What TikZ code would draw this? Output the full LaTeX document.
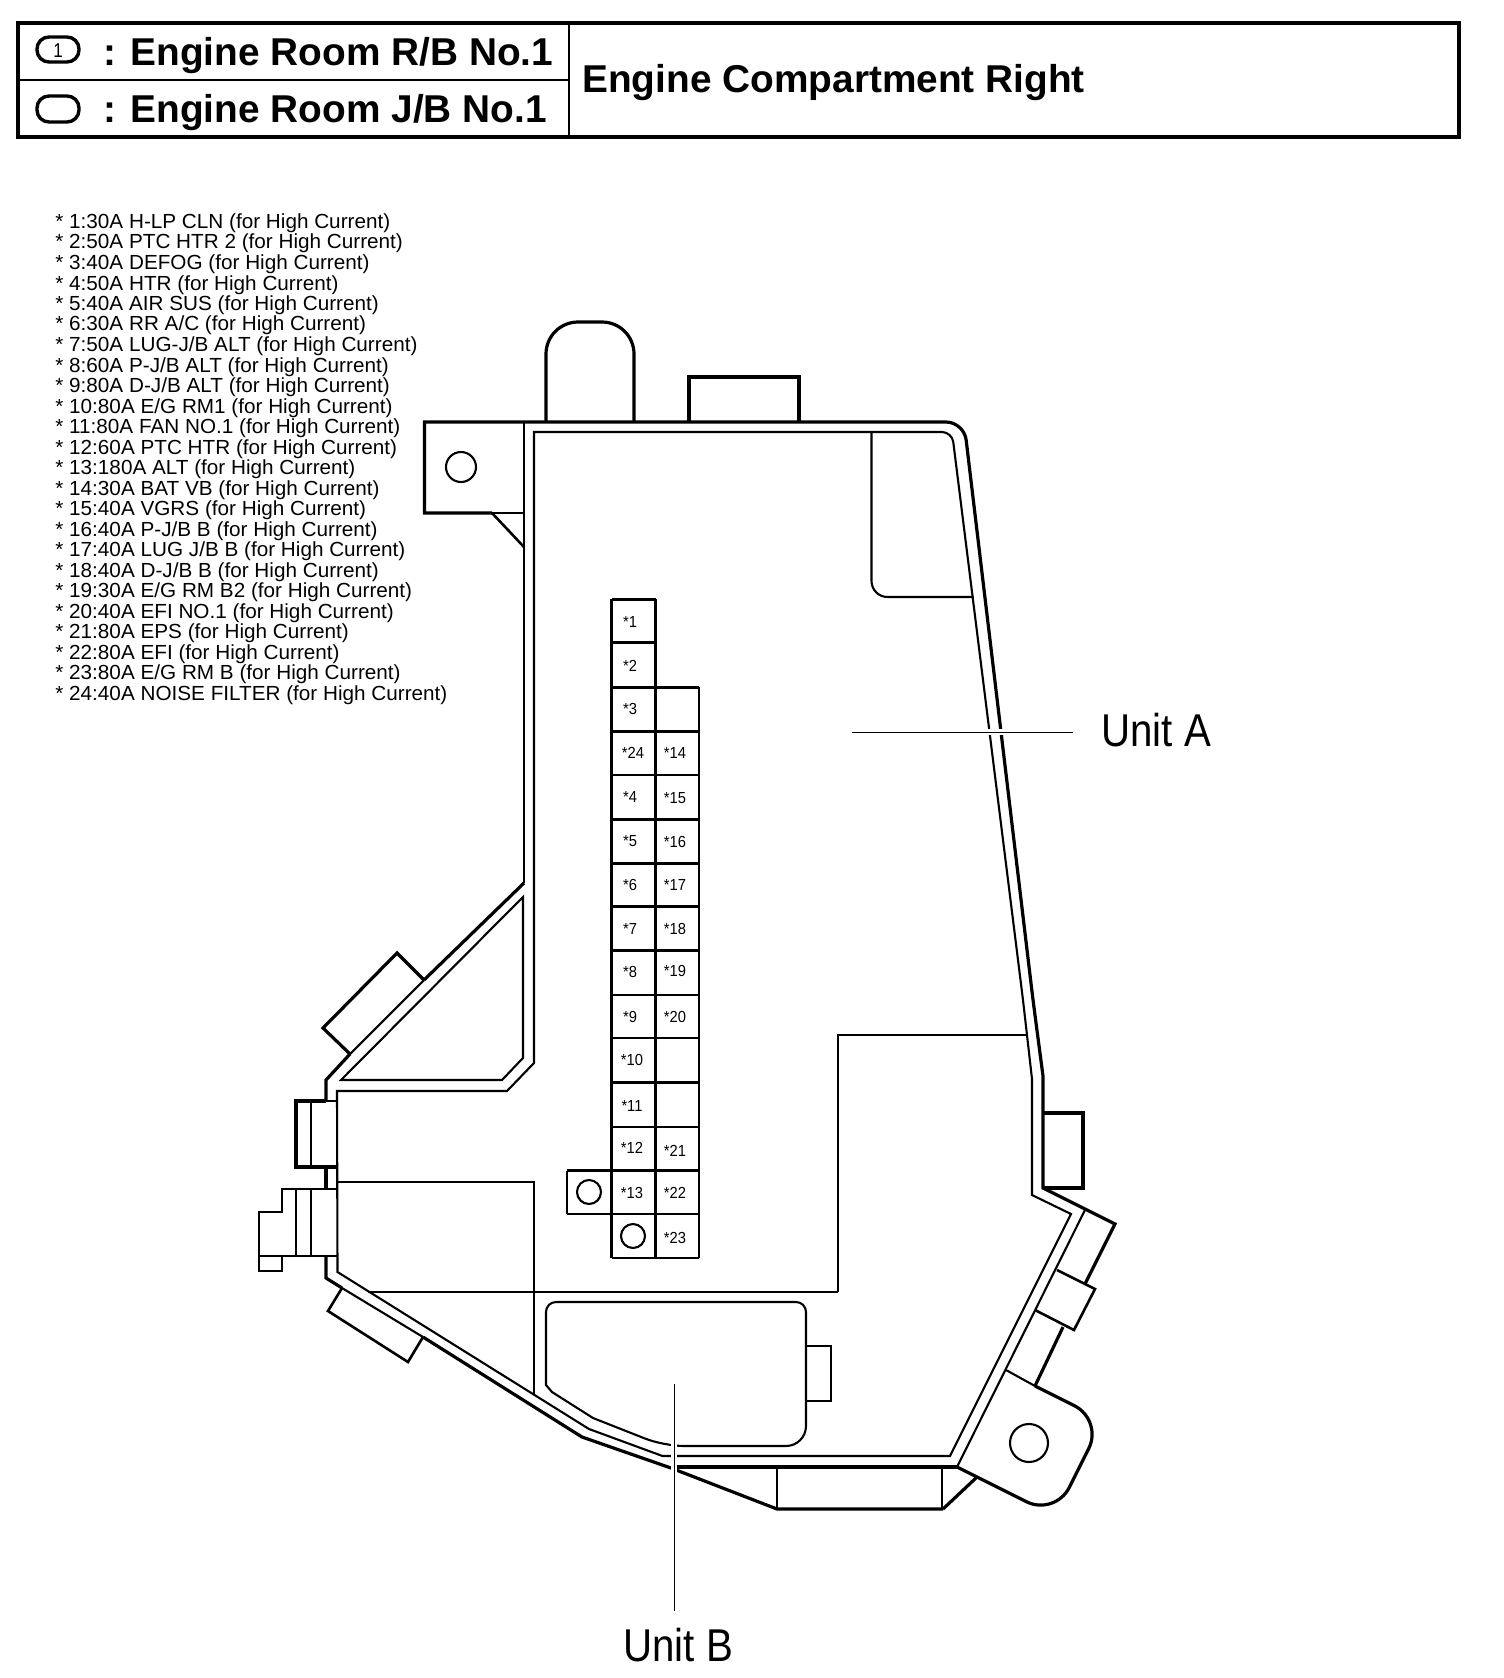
\documentclass[tikz,border=0pt]{standalone}
\usepackage{fontspec}
\setmainfont{Liberation Sans}
\tikzset{
  wallthick/.style={black, line width=1.6pt, line join=miter},
  wallmed/.style={black, line width=1.05pt},
  wallthin/.style={black, line width=0.75pt},
  cellline/.style={black, line width=1.35pt},
  leaderline/.style={black, line width=0.45pt, preaction={draw=white, line width=2.8pt}},
  headtext/.style={anchor=base west, inner sep=0pt, font=\fontsize{19.4}{19.4}\selectfont\bfseries},
  listtext/.style={anchor=base west, inner sep=0pt, xscale=1.015, font=\fontsize{10.2}{10.2}\selectfont},
  fusetext/.style={inner sep=0pt, xscale=0.92, font=\fontsize{8}{8}\selectfont},
  unitlabel/.style={inner sep=0pt, xscale=0.875, font=\fontsize{23}{23}\selectfont}
}
\begin{document}
\begin{tikzpicture}[x=0.5pt,y=-0.5pt]
\useasboundingbox (0,0) rectangle (1504,1678);

% header
\draw[black, line width=1.8pt] (18,23) rectangle (1459,137);
\draw[wallthin] (18,80)--(569,80);
\draw[wallthin] (569,23)--(569,137);

\draw[black, line width=1.7pt, rounded corners=6pt] (37,37) rectangle (79,62);
\draw[black, line width=1.7pt, rounded corners=6pt] (37,96) rectangle (79,122);
\node[inner sep=0pt, xscale=0.85, font=\fontsize{10}{10}\selectfont] (iconone) at (58,50.5) {1};

\node[headtext] (headrb) at (103,65) {: Engine Room R/B No.1};
\node[headtext] (headjb) at (103,122) {: Engine Room J/B No.1};
\node[headtext] (headarea) at (582,92.5) {Engine Compartment Right};

% fuse list
\node[listtext] (list1) at (55,228) {* 1:30A H-LP CLN (for High Current)};
\node[listtext] (list2) at (55,248.5) {* 2:50A PTC HTR 2 (for High Current)};
\node[listtext] (list3) at (55,269) {* 3:40A DEFOG (for High Current)};
\node[listtext] (list4) at (55,290) {* 4:50A HTR (for High Current)};
\node[listtext] (list5) at (55,310) {* 5:40A AIR SUS (for High Current)};
\node[listtext] (list6) at (55,330.5) {* 6:30A RR A/C (for High Current)};
\node[listtext] (list7) at (55,351) {* 7:50A LUG-J/B ALT (for High Current)};
\node[listtext] (list8) at (55,372) {* 8:60A P-J/B ALT (for High Current)};
\node[listtext] (list9) at (55,392) {* 9:80A D-J/B ALT (for High Current)};
\node[listtext] (list10) at (55,413) {* 10:80A E/G RM1 (for High Current)};
\node[listtext] (list11) at (55,433) {* 11:80A FAN NO.1 (for High Current)};
\node[listtext] (list12) at (55,454) {* 12:60A PTC HTR (for High Current)};
\node[listtext] (list13) at (55,474) {* 13:180A ALT (for High Current)};
\node[listtext] (list14) at (55,495) {* 14:30A BAT VB (for High Current)};
\node[listtext] (list15) at (55,515) {* 15:40A VGRS (for High Current)};
\node[listtext] (list16) at (55,536) {* 16:40A P-J/B B (for High Current)};
\node[listtext] (list17) at (55,556) {* 17:40A LUG J/B B (for High Current)};
\node[listtext] (list18) at (55,577) {* 18:40A D-J/B B (for High Current)};
\node[listtext] (list19) at (55,597) {* 19:30A E/G RM B2 (for High Current)};
\node[listtext] (list20) at (55,618) {* 20:40A EFI NO.1 (for High Current)};
\node[listtext] (list21) at (55,638.5) {* 21:80A EPS (for High Current)};
\node[listtext] (list22) at (55,659) {* 22:80A EFI (for High Current)};
\node[listtext] (list23) at (55,679.5) {* 23:80A E/G RM B (for High Current)};
\node[listtext] (list24) at (55,700) {* 24:40A NOISE FILTER (for High Current)};

% outer wall
\draw[wallthick] (492,513)--(424.5,513)--(424.5,422) [rounded corners=9pt] --(964,422)--(1033,1000) [sharp corners] --(1043,1076)--(1043,1188)--(1115,1224)--(1085,1284);
\draw[wallmed] (524,422)--(524,883);
\draw[wallthin] (492,513)--(524,513);
\draw[wallmed, line width=1.3pt] (492,513)--(524,547);
\draw[wallthick] (524,883)--(424,980);
\draw[wallmed] (424,980)--(350,1054);
\draw[wallthick] (350,1054)--(326,1080)--(326,1101);
\draw[wallthick] (326,1167)--(326,1188);
\draw[wallthick] (326,1256)--(326,1278)--(342,1288);
\draw[wallmed] (342,1288)--(423,1337);
\draw[wallthick] (423,1337)--(582,1437)--(671,1468)--(777,1509)--(943,1509);
\draw[wallthick] (671,1467)--(957,1467);
\draw[wallmed] (1085,1210)--(957,1467);
\draw[wallthick] (943,1509)--(977,1477);
\draw[wallthin] (777,1467)--(777,1509);
\draw[wallthin] (942,1467)--(942,1509);

% inner wall
\draw[wallmed] (534,1063)--(534,432) [rounded corners=5pt] --(952,432)--(1023,1000) [sharp corners] --(1032,1079)--(1032,1195)--(1071,1214)--(950,1456)--(662.5,1456)--(589,1429)--(337.5,1272)--(337,1091)--(507,1091)--cycle;

% lugs and connectors on the wall
\draw[wallthick, rounded corners=16pt] (546,422)--(546,322)--(634,322)--(634,422);
\draw[wallthick] (689,422)--(689,377)--(799,377)--(799,422);
\draw[wallmed] (461,467) circle [radius=15];

\draw[wallthick] (424,980)--(397,953)--(323,1028)--(350,1054);

\draw[wallthick] (326,1101)--(296,1101)--(296,1167)--(337,1167);
\draw[wallmed] (326,1101)--(337,1101);
\draw[wallthin] (311,1101)--(311,1167);

\draw[wallmed, line width=1.3pt] (337,1189)--(282,1189)--(282,1212)--(259,1212)--(259,1271)--(282,1271)--(282,1256);
\draw[wallmed] (259,1256)--(337,1256);
\draw[wallthin] (296,1189)--(296,1256);
\draw[wallthin] (311,1189)--(311,1256);

\draw[wallmed, line width=1.3pt] (342,1288)--(328,1311)--(408,1362)--(423,1337);

\draw[wallthick] (1043,1113)--(1083,1113)--(1083,1188)--(1043,1188);
\draw[wallmed, line width=1.3pt] (1057,1270)--(1095,1289)--(1074,1330)--(1035,1310);
\draw[wallthick] (1063,1327)--(1035,1386);
\draw[wallmed] (1006,1370)--(1035,1386);
\draw[wallthick] (1035,1386) [rounded corners=16pt] --(1103,1420)--(1055,1516) [sharp corners] --(957,1467);
\draw[wallmed] (1029,1443) circle [radius=19];

% inside lines
\draw[wallmed] (871.5,432)--(871.5,580) [rounded corners=8pt] --(871.5,597) [sharp corners] --(973.5,597);
\draw[wallthin] (1027,1035)--(838,1035)--(838,1292);
\draw[wallmed] (838,1292)--(368,1292);
\draw[wallmed] (523,897)--(523,1058)--(502,1080)--(341,1080)--cycle;
\draw[wallmed] (337,1182)--(534,1182)--(534,1395);

% unit B case
\draw[wallmed] (546,1385)--(546,1312) [rounded corners=5pt] --(546,1302)--(806,1302) [rounded corners=10pt] --(806,1446)--(664,1446) [sharp corners] --(593,1418)--(552,1392)--cycle;
\draw[wallthin] (806,1346)--(831,1346)--(831,1401)--(806,1401);

% fuse cells
\draw[cellline] (611.7,599.3)--(611.7,1258);
\draw[cellline] (655.7,599.3)--(655.7,1258);
\draw[cellline] (699,687.3)--(699,1258);
\draw[cellline] (567,1170.7)--(567,1214);

\draw[cellline] (611.7,599.3)--(655.7,599.3);
\draw[cellline] (611.7,642.7)--(655.7,642.7);
\draw[cellline] (611.7,687.3)--(699,687.3);
\draw[cellline] (611.7,731.3)--(699,731.3);
\draw[cellline] (611.7,775)--(699,775);
\draw[cellline] (611.7,819.3)--(699,819.3);
\draw[cellline] (611.7,863.3)--(699,863.3);
\draw[cellline] (611.7,906.7)--(699,906.7);
\draw[cellline] (611.7,950.7)--(699,950.7);
\draw[cellline] (611.7,995)--(699,995);
\draw[cellline] (611.7,1038)--(699,1038);
\draw[cellline] (611.7,1082.7)--(699,1082.7);
\draw[cellline] (611.7,1127)--(699,1127);
\draw[cellline] (567,1170.7)--(699,1170.7);
\draw[cellline] (567,1214)--(699,1214);
\draw[cellline] (611.7,1258)--(699,1258);

\draw[wallmed] (589,1192) circle [radius=12];
\draw[wallmed] (633,1236) circle [radius=12];

\node[fusetext] (fuse1) at (630,622) {*1};
\node[fusetext] (fuse2) at (630,666) {*2};
\node[fusetext] (fuse3) at (630,709) {*3};
\node[fusetext] (fuse24) at (633,753) {*24};
\node[fusetext] (fuse4) at (630,797) {*4};
\node[fusetext] (fuse5) at (630,841) {*5};
\node[fusetext] (fuse6) at (630,885) {*6};
\node[fusetext] (fuse7) at (630,929) {*7};
\node[fusetext] (fuse8) at (630,972) {*8};
\node[fusetext] (fuse9) at (630,1017) {*9};
\node[fusetext] (fuse10) at (632,1060) {*10};
\node[fusetext] (fuse11) at (632,1106) {*11};
\node[fusetext] (fuse12) at (632,1148) {*12};
\node[fusetext] (fuse13) at (632,1193) {*13};

\node[fusetext] (fuse14) at (675,753) {*14};
\node[fusetext] (fuse15) at (675,798) {*15};
\node[fusetext] (fuse16) at (675,842) {*16};
\node[fusetext] (fuse17) at (675,885) {*17};
\node[fusetext] (fuse18) at (675,929) {*18};
\node[fusetext] (fuse19) at (675,971) {*19};
\node[fusetext] (fuse20) at (675,1017) {*20};
\node[fusetext] (fuse21) at (675,1151) {*21};
\node[fusetext] (fuse22) at (675,1193) {*22};
\node[fusetext] (fuse23) at (675,1238) {*23};

% unit labels
\node[unitlabel, anchor=base west] (unita) at (1101,746) {Unit A};
\node[unitlabel, anchor=base west] (unitb) at (623,1661) {Unit B};
\coordinate (unitastart) at (852,732);
\coordinate (unitaend) at (1073,732);
\coordinate (unitbstart) at (674,1384);
\coordinate (unitbend) at (674,1611);
\draw[leaderline] (unitastart)--(unitaend);
\draw[leaderline] (unitbstart)--(unitbend);

\end{tikzpicture}
\end{document}
